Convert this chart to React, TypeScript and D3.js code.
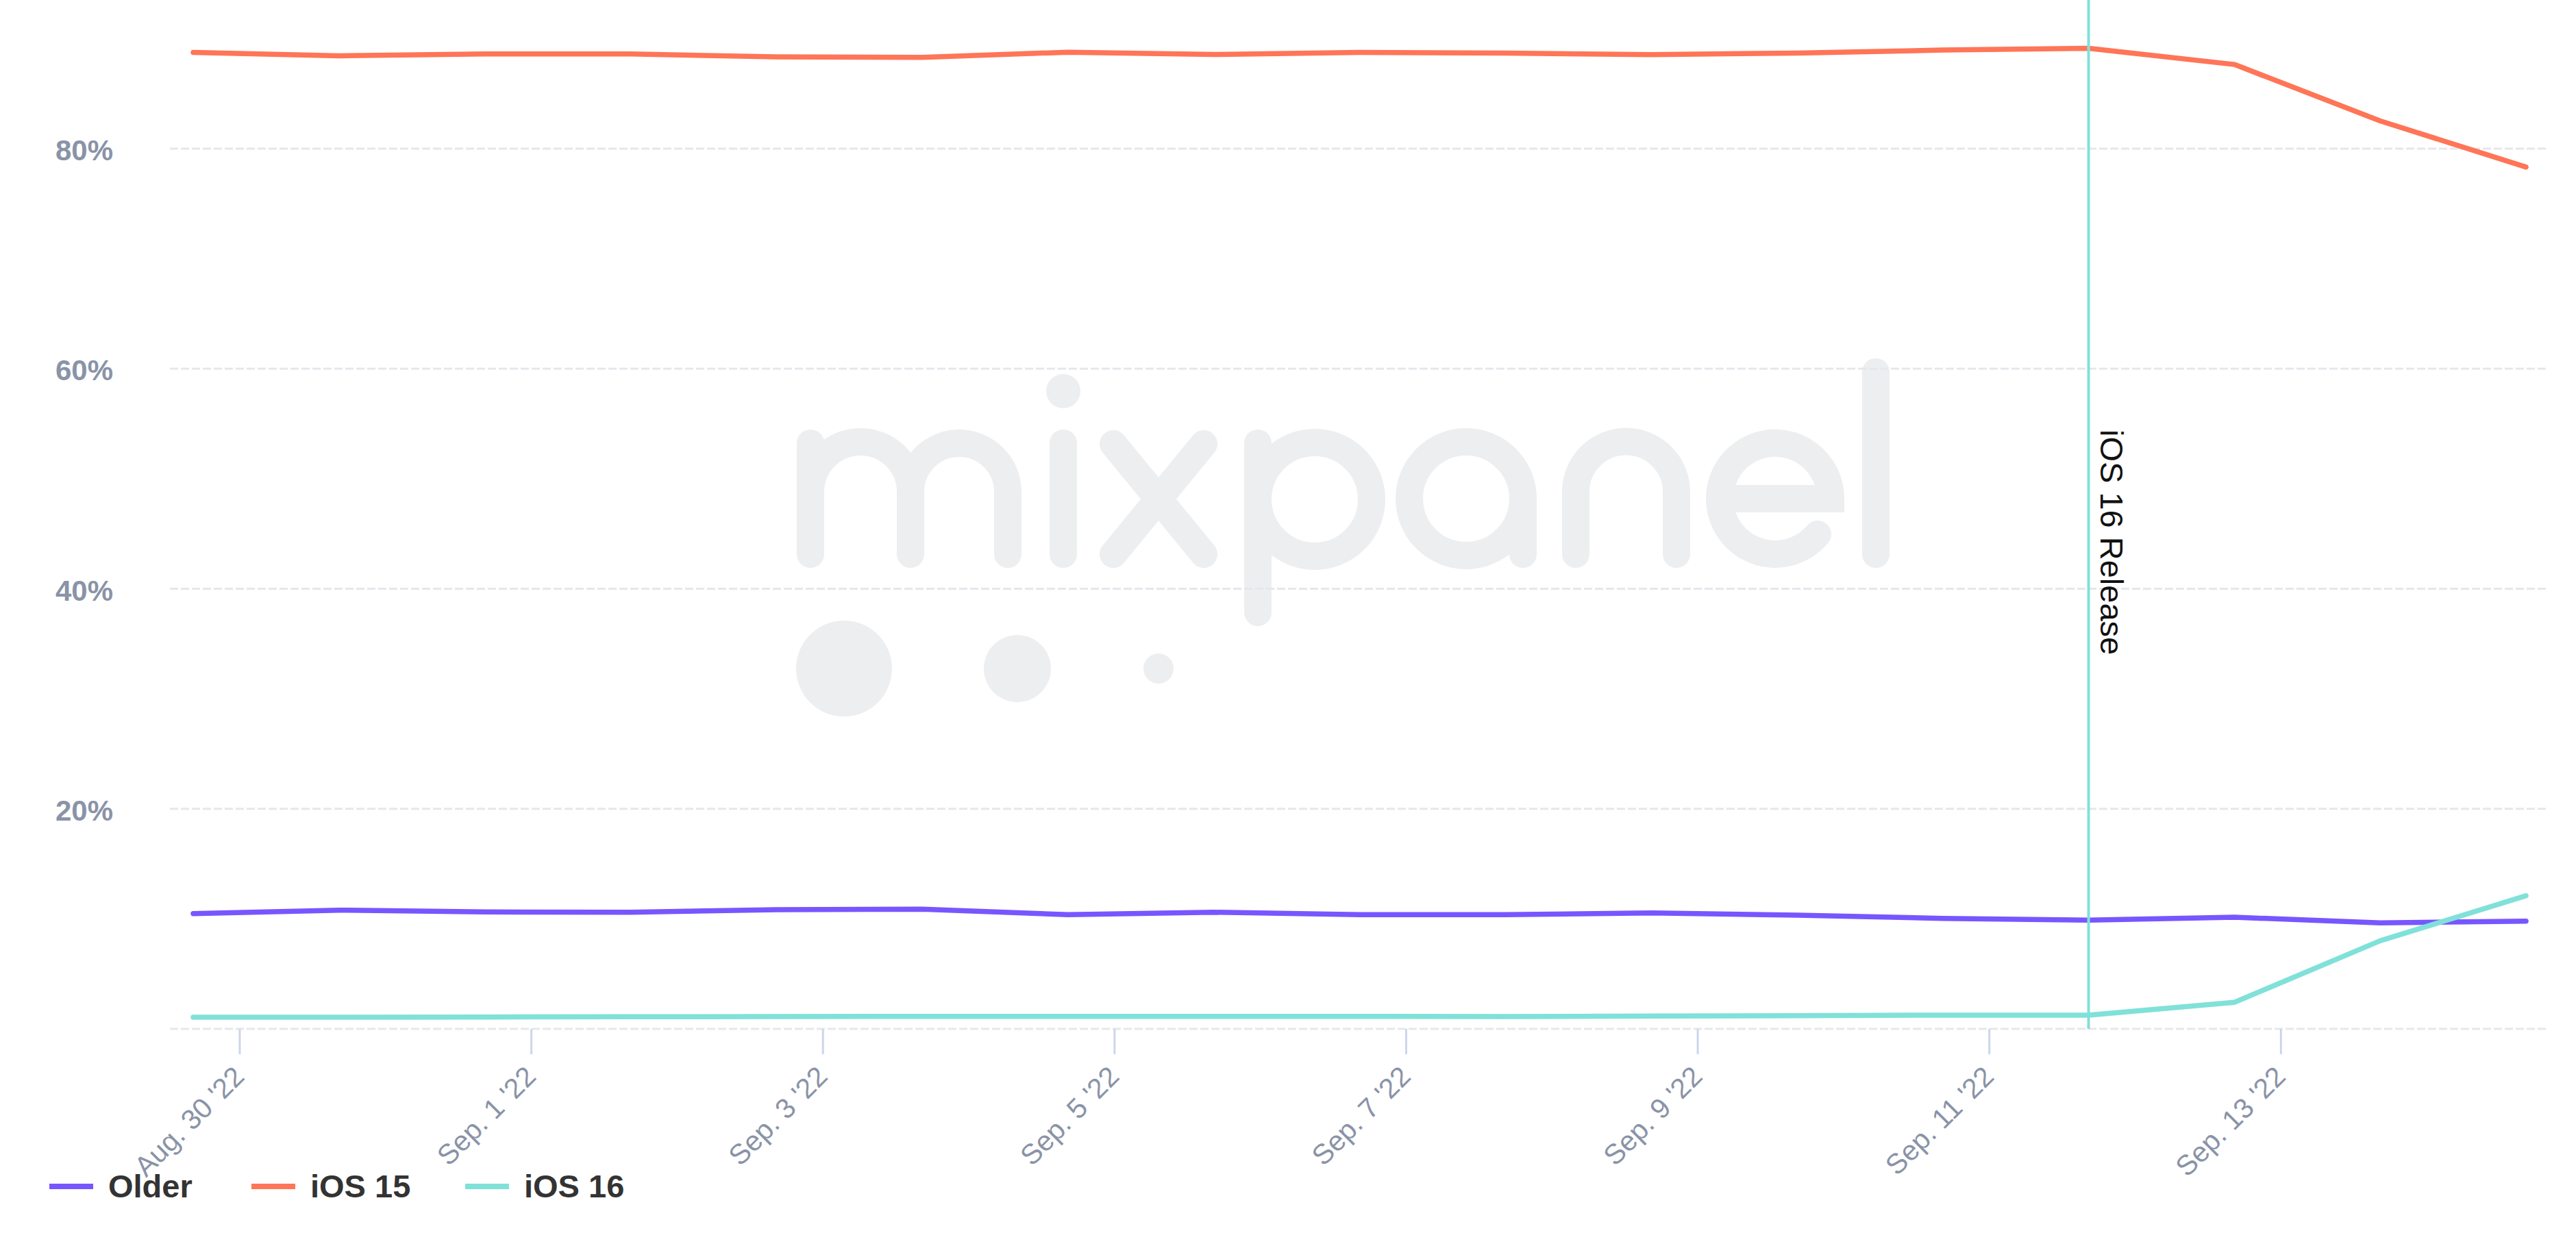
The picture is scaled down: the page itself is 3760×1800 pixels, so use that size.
import React, { useEffect, useRef } from 'react';
import * as d3 from 'd3';

// daily share of active iOS devices, one point per day
const days = [
  '2022-08-29', '2022-08-30', '2022-08-31', '2022-09-01', '2022-09-02', '2022-09-03',
  '2022-09-04', '2022-09-05', '2022-09-06', '2022-09-07', '2022-09-08', '2022-09-09',
  '2022-09-10', '2022-09-11', '2022-09-12', '2022-09-13', '2022-09-14',
];
const older = [10.48, 10.79, 10.63, 10.6, 10.83, 10.88, 10.38, 10.6, 10.38, 10.38, 10.54, 10.34, 10.04, 9.88, 10.15, 9.63, 9.79];
const ios15 = [88.75, 88.44, 88.61, 88.61, 88.34, 88.29, 88.77, 88.56, 88.75, 88.69, 88.54, 88.69, 88.96, 89.12, 87.65, 82.52, 78.33];
const ios16 = [1.06, 1.06, 1.08, 1.1, 1.12, 1.14, 1.14, 1.14, 1.14, 1.12, 1.16, 1.2, 1.25, 1.25, 2.41, 8.01, 12.1];

const seriesNames = ['Older', 'iOS 15', 'iOS 16'];
const seriesColors = ['#7856FF', '#FF7557', '#80E1D9'];

const yTicks = [0, 20, 40, 60, 80];
const xTickDays = ['2022-08-30', '2022-09-01', '2022-09-03', '2022-09-05', '2022-09-07', '2022-09-09', '2022-09-11', '2022-09-13'];

const releaseDay = '2022-09-11';
const releaseLabel = 'iOS 16 Release';

const App = () => {
  const ref = useRef<SVGSVGElement>(null);

  useEffect(() => {
    const svg = d3.select(ref.current).attr('width', 3760).attr('height', 1800);
    svg.selectAll('*').remove();

    const font = '"Liberation Sans", Arial, Helvetica, sans-serif';
    const labelColor = '#8A93A7';
    const parsePoint = d3.timeParse('%Y-%m-%d %H:%M');
    const parseDay = d3.timeParse('%Y-%m-%d');
    const pts = days.map(d => parsePoint(d + ' 16:20') as Date);

    const left = 248, right = 3717, bottom = 1502;
    const x = d3.scaleTime().domain([pts[0], pts[pts.length - 1]]).range([282, 3687]);
    const y = d3.scaleLinear().domain([0, 80]).range([bottom, 217]);

    // mixpanel watermark behind everything
    const wm = svg.append('g')
      .attr('fill', 'none')
      .attr('stroke', '#EDEEF0')
      .attr('stroke-width', 40)
      .attr('stroke-linecap', 'round');
    [
      'M1183,809 V647 M1183,718 A73,73 0 0 1 1329,718 V809 M1329,718 A71,71 0 0 1 1471,718 V809',
      'M1552,647 V809',
      'M1625,648 L1757,809 M1757,648 L1625,809',
      'M1836,647 V894',
      'M2223,728 V809',
      'M2300,809 V718 A73.5,73.5 0 0 1 2447,718 V809',
      'M2512,728 H2672 A81,81 0 1 0 2653,780',
      'M2738,543 V809',
    ].forEach(d => wm.append('path').attr('d', d));
    [[1919, 729], [2140, 728]].forEach(([cx, cy]) =>
      wm.append('circle').attr('cx', cx).attr('cy', cy).attr('r', 83));
    const dots = svg.append('g').attr('fill', '#EDEEF0');
    [[1552, 571, 25], [1232, 976, 70], [1485, 976, 49], [1691, 976, 22]].forEach(([cx, cy, r]) =>
      dots.append('circle').attr('cx', cx).attr('cy', cy).attr('r', r));

    // grid
    svg.append('g').selectAll('line')
      .data(yTicks).join('line')
      .attr('x1', left).attr('x2', right)
      .attr('y1', d => y(d)).attr('y2', d => y(d))
      .attr('stroke', '#E6E7EC')
      .attr('stroke-width', 3)
      .attr('stroke-dasharray', '12,4');

    svg.append('g').selectAll('text')
      .data(yTicks.filter(d => d > 0)).join('text')
      .attr('x', 165)
      .attr('y', d => y(d) + 2)
      .attr('dy', '0.36em')
      .attr('text-anchor', 'end')
      .attr('font-family', font)
      .attr('font-weight', 'bold')
      .attr('font-size', 42)
      .attr('fill', labelColor)
      .text(d => d + '%');

    // x ticks and labels
    const tickDates = xTickDays.map(d => parseDay(d) as Date);
    const fmt = d3.timeFormat("%b. %-d '%y");
    const xt = svg.append('g');
    xt.selectAll('line')
      .data(tickDates).join('line')
      .attr('x1', d => x(d)).attr('x2', d => x(d))
      .attr('y1', bottom).attr('y2', bottom + 37)
      .attr('stroke', '#CCD6EB')
      .attr('stroke-width', 3);
    xt.selectAll('text')
      .data(tickDates).join('text')
      .attr('transform', d => `translate(${x(d) + 9},1574) rotate(-45)`)
      .attr('text-anchor', 'end')
      .attr('font-family', font)
      .attr('font-size', 41)
      .attr('fill', labelColor)
      .text(d => fmt(d));

    // series
    const series = [older, ios15, ios16];
    const line = d3.line<number>()
      .x((_, i) => x(pts[i]))
      .y(d => y(d));
    series.forEach((vals, i) => {
      svg.append('path')
        .datum(vals)
        .attr('d', line)
        .attr('fill', 'none')
        .attr('stroke', seriesColors[i])
        .attr('stroke-width', 7.5)
        .attr('stroke-linecap', 'round')
        .attr('stroke-linejoin', 'round');
    });

    // release marker
    const rx = x(pts[days.indexOf(releaseDay)]);
    svg.append('line')
      .attr('x1', rx).attr('x2', rx)
      .attr('y1', 0).attr('y2', bottom)
      .attr('stroke', seriesColors[2])
      .attr('stroke-width', 4);
    svg.append('text')
      .attr('transform', `translate(${rx + 17},627) rotate(90)`)
      .attr('font-family', font)
      .attr('font-size', 47)
      .attr('fill', '#111')
      .text(releaseLabel);

    // legend
    const legendX = [72, 367, 679];
    const lg = svg.append('g');
    seriesNames.forEach((name, i) => {
      lg.append('rect')
        .attr('x', legendX[i]).attr('y', 1728)
        .attr('width', 64).attr('height', 8)
        .attr('fill', seriesColors[i]);
      lg.append('text')
        .attr('x', legendX[i] + 86).attr('y', 1748)
        .attr('font-family', font)
        .attr('font-weight', 'bold')
        .attr('font-size', 47)
        .attr('fill', '#333')
        .text(name);
    });
  }, []);

  return <svg ref={ref} style={{ position: 'absolute', left: 0, top: 0 }}></svg>;
};

export default App;
